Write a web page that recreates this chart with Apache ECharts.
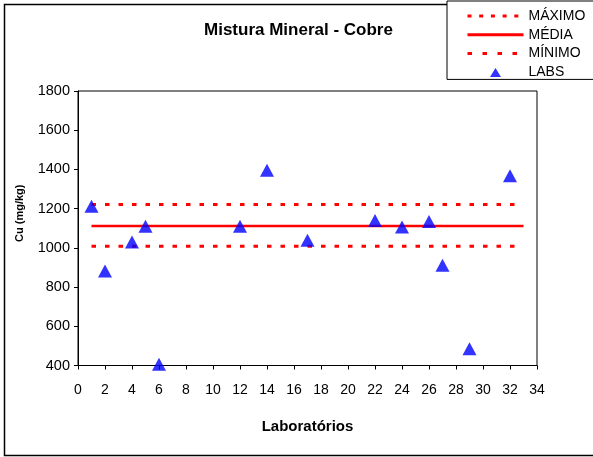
<!DOCTYPE html>
<html>
<head>
<meta charset="utf-8">
<script src="https://cdn.jsdelivr.net/npm/echarts@6/dist/echarts.min.js"></script>
<style>
html,body{margin:0;padding:0;background:#fff;}
#chart{width:593px;height:457px;}
</style>
</head>
<body>
<div id="chart"></div>
<script>
// ---- data ----
const labX = [1, 2, 4, 5, 6, 12, 14, 17, 22, 24, 26, 27, 29, 32];
const labY = [1212, 882, 1030, 1110, 406, 1110, 1396, 1039, 1139, 1107, 1135, 911, 486, 1368];
const rangeX = [1, 33];
const maximo = 1221;
const media = 1112;
const minimo = 1008;
const xTicks = [0, 34, 2];      // min, max, interval
const yTicks = [400, 1800, 200];
const title = 'Mistura Mineral - Cobre';
const xName = 'Laboratórios';
const yName = 'Cu (mg/kg)';
const names = ['MÁXIMO', 'MÉDIA', 'MÍNIMO', 'LABS'];

const FONT = '"Liberation Sans", Arial, sans-serif';
const chart = echarts.init(document.getElementById('chart'), null, {renderer: 'canvas'});

const hline = v => rangeX.map(x => [x, v]);
const noSym = {color: 'rgba(0,0,0,0)', borderWidth: 0, opacity: 0};

chart.setOption({
  animation: false,
  backgroundColor: '#fff',
  textStyle: {fontFamily: FONT, color: '#000'},
  graphic: [{
    type: 'rect', z: -10, silent: true,
    shape: {x: 4.5, y: 4.5, width: 620, height: 451},
    style: {fill: '#fff', stroke: '#000', lineWidth: 1.5}
  }],
  title: {
    text: title, left: 204, top: 22, padding: 0,
    textStyle: {fontFamily: FONT, fontSize: 17, fontWeight: 'bold', color: '#000'}
  },
  legend: {
    orient: 'vertical', left: 447, top: 1,
    padding: [8, 40, 0, 19],
    itemWidth: 56, itemHeight: 9, itemGap: 4.8,
    symbolKeepAspect: true,
    backgroundColor: '#fff', borderColor: '#000', borderWidth: 1,
    textStyle: {fontFamily: FONT, fontSize: 14, color: '#000'},
    data: [
      {name: names[0], itemStyle: noSym, lineStyle: {color: '#ff0000', width: 3, type: [4, 7.7]}},
      {name: names[1], itemStyle: noSym, lineStyle: {color: '#ff0000', width: 3, type: 'solid'}},
      {name: names[2], itemStyle: noSym, lineStyle: {color: '#ff0000', width: 3, type: [4.5, 10.5]}},
      {name: names[3], icon: 'path://M5.5 0 L11 9 L0 9 Z'}
    ],
    z: 10
  },
  grid: {
    left: 78, top: 91, width: 459, height: 274.5,
    show: true, borderColor: '#000', borderWidth: 1, backgroundColor: 'transparent'
  },
  xAxis: {
    type: 'value', min: xTicks[0], max: xTicks[1], interval: xTicks[2],
    name: xName, nameLocation: 'middle', nameGap: 54,
    nameTextStyle: {fontFamily: FONT, fontSize: 15, fontWeight: 'bold', color: '#000'},
    axisLine: {show: true, lineStyle: {color: '#000', width: 1}},
    axisTick: {show: true, length: 4, lineStyle: {color: '#000'}},
    axisLabel: {fontFamily: FONT, fontSize: 14, color: '#000', margin: 18},
    splitLine: {show: false}
  },
  yAxis: {
    type: 'value', min: yTicks[0], max: yTicks[1], interval: yTicks[2],
    name: yName, nameLocation: 'middle', nameGap: 53, nameRotate: 90,
    nameTextStyle: {fontFamily: FONT, fontSize: 11, fontWeight: 'bold', color: '#000', padding: [0, 0, 0, 30]},
    axisLine: {show: true, lineStyle: {color: '#000', width: 1}},
    axisTick: {show: true, length: 4, lineStyle: {color: '#000'}},
    axisLabel: {fontFamily: FONT, fontSize: 14.5, color: '#000', margin: 8, formatter: v => String(v)},
    splitLine: {show: false}
  },
  series: [
    {name: names[0], type: 'line', data: hline(maximo), symbol: 'none',
     lineStyle: {color: '#ff0000', width: 3, type: [4.5, 9]}, itemStyle: {color: '#ff0000'}},
    {name: names[1], type: 'line', data: hline(media), symbol: 'none',
     lineStyle: {color: '#ff0000', width: 2.5, type: 'solid'}, itemStyle: {color: '#ff0000'}},
    {name: names[2], type: 'line', data: hline(minimo), symbol: 'none',
     lineStyle: {color: '#ff0000', width: 3, type: [4.5, 9]}, itemStyle: {color: '#ff0000'}},
    {name: names[3], type: 'scatter', data: labX.map((x, i) => [x, labY[i]]),
     symbol: 'triangle', symbolSize: [14, 13], clip: false,
     itemStyle: {color: '#0000ff'}, z: 5}
  ]
});
</script>
</body>
</html>
